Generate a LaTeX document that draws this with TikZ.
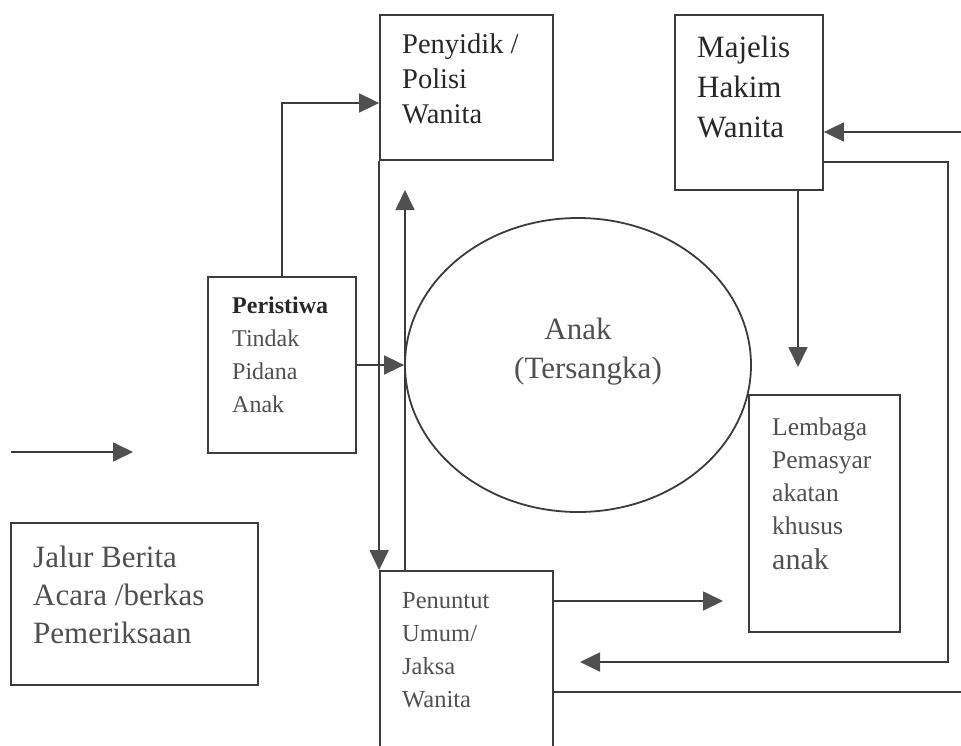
\documentclass[tikz,border=0pt]{standalone}
\usepackage{fontspec}
\setmainfont{Liberation Serif}
\usetikzlibrary{arrows.meta,shapes.geometric}
\definecolor{ln}{RGB}{60,60,60}
\definecolor{tip}{RGB}{80,80,80}
\definecolor{tx}{RGB}{40,40,40}
\definecolor{txl}{RGB}{80,80,80}
\begin{document}
\begin{tikzpicture}[x=1pt,y=-1pt,
  box/.style={draw=ln,line width=1.8pt,rectangle,inner sep=0pt},
  arr/.style={draw=ln,line width=1.8pt,-{Triangle[length=20pt,width=19pt,color=tip]}},
  plain/.style={draw=ln,line width=1.8pt},
  lbl/.style={anchor=north west,inner sep=0pt,align=left}]
\useasboundingbox (0,0) rectangle (961,745);
\clip (0,0) rectangle (961,745);
\fill[white] (0,0) rectangle (961,745);

% boxes
\node[box,minimum width=173pt,minimum height=145pt] (peny) at (466.5,87.5) {};
\node[box,minimum width=148pt,minimum height=175pt] (maj) at (749,102.5) {};
\node[box,minimum width=148pt,minimum height=176pt] (peri) at (282,365) {};
\node[box,minimum width=151pt,minimum height=237pt] (lem) at (824.5,513.5) {};
\node[box,minimum width=173pt,minimum height=189pt] (pen) at (466.5,665.5) {};
\node[box,minimum width=247pt,minimum height=162pt] (jal) at (134.5,604) {};
\node[draw=ln,line width=1.8pt,ellipse,inner sep=0pt,minimum width=346pt,minimum height=294pt] (anak) at (578,365) {};

% texts
\node[lbl,text=tx,font=\fontsize{28.5}{35}\selectfont] (tpeny) at (402,34) {Penyidik /\\Polisi\\Wanita};
\node[lbl,text=tx,font=\fontsize{31}{40}\selectfont] (tmaj) at (697,36) {Majelis\\Hakim\\Wanita};
\node[lbl,text=txl,font=\fontsize{24}{33}\selectfont] (tperi) at (232,297) {{\bfseries\color{tx}Peristiwa}\\Tindak\\Pidana\\Anak};
\node[lbl,text=txl,font=\fontsize{25.5}{33}\selectfont] (tlem) at (772,418) {Lembaga\\Pemasyar\\akatan\\khusus\\[2pt]{\fontsize{30}{35}\selectfont anak}};
\node[lbl,text=txl,font=\fontsize{24.5}{33}\selectfont] (tpen) at (402,592) {Penuntut\\Umum/\\Jaksa\\Wanita};
\node[lbl,text=txl,font=\fontsize{31}{38}\selectfont] (tjal) at (33,546) {Jalur Berita\\Acara /berkas\\Pemeriksaan};
\node[anchor=base,inner sep=0pt,text=txl,font=\fontsize{31}{38}\selectfont] (tanak1) at (578,339) {Anak};
\node[anchor=base,inner sep=0pt,text=txl,font=\fontsize{31}{38}\selectfont] (tanak2) at (588,378) {(Tersangka)};

% free ends
\coordinate (upend) at (405,190);
\coordinate (majdown) at (798,367);
\coordinate (rin) at (961,132);
\coordinate (loopc) at (948,662);
\coordinate (looptip) at (580,662);
\coordinate (rout) at (961,692);
\coordinate (lemtip) at (723,601);
\coordinate (la1) at (11,452);
\coordinate (la2) at (133,452);

% connectors
\draw[arr] (peri.north) |- ([yshift=-15.5pt]peny.west);
\draw[arr] (peny.south west) -- (pen.north west);
\draw[arr] (pen.north west -| upend) -- (upend);
\draw[arr] (peri.east) -- (anak.west);
\draw[arr] (majdown |- maj.south) -- (majdown);
\draw[arr] (rin) -- (rin -| maj.east);
\draw[arr] ([yshift=-59.5pt]maj.east) -| (loopc) -- (looptip);
\draw[plain] (rout -| pen.east) -- (rout);
\draw[arr] (lemtip -| pen.east) -- (lemtip);
\draw[arr] (la1) -- (la2);
\end{tikzpicture}
\end{document}
